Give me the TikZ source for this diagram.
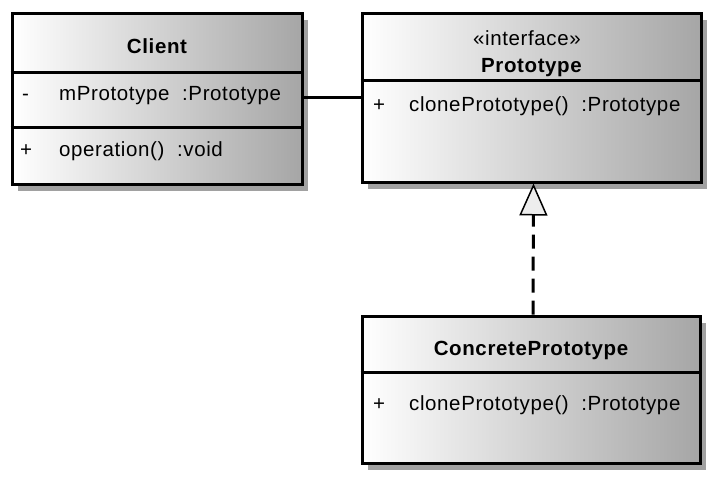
\documentclass[tikz,border=0pt]{standalone}
\usepackage{fontspec}
\setmainfont[LetterSpace=3]{Liberation Sans}
\usetikzlibrary{arrows.meta,shadows}
\begin{document}
\begin{tikzpicture}[x=1pt,y=-1pt,
	classbox/.style={draw,line width=3pt,inner sep=0pt,left color=white,right color=black!35,
		drop shadow={shadow xshift=6pt,shadow yshift=-7pt,fill=black!37,opacity=1}},
	sep/.style={line width=3pt},
	cname/.style={font=\fontsize{20.5}{24}\selectfont\bfseries,anchor=base,inner sep=0pt},
	stereo/.style={font=\fontsize{20.5}{24}\selectfont,anchor=base,inner sep=0pt},
	member/.style={font=\fontsize{20.5}{24}\selectfont,anchor=base west,inner sep=0pt}]
		\useasboundingbox (0,0) rectangle (720,488);
		% boxes
		\node[classbox,minimum width=290,minimum height=171] (client) at (157,98.5) {};
		\node[classbox,minimum width=339,minimum height=169] (proto) at (531.5,97.5) {};
		\node[classbox,minimum width=338,minimum height=147] (concrete) at (531,389.5) {};
		% compartments
		\draw[sep] (client.west |- 0,72) -- (client.east |- 0,72);
		\draw[sep] (client.west |- 0,127) -- (client.east |- 0,127);
		\draw[sep] (proto.west |- 0,80) -- (proto.east |- 0,80);
		\draw[sep] (concrete.west |- 0,372) -- (concrete.east |- 0,372);
		% Client
		\node[cname] (clientname) at (157,53) {Client};
		\node[member] (cattrvis) at (22,100) {-};
		\node[member] (cattr) at (59,100) {mPrototype~~:Prototype};
		\node[member] (copvis) at (20,156) {+};
		\node[member] (cop) at (59,156) {operation()~~:void};
		% Prototype
		\node[stereo] (protostereo) at (527,45) {«interface»};
		\node[cname] (protoname) at (531.5,72) {Prototype};
		\node[member] (pcvis) at (373,111) {+};
		\node[member] (pclone) at (409,111) {clonePrototype()~~:Prototype};
		% ConcretePrototype
		\node[cname] (concretename) at (531,355) {ConcretePrototype};
		\node[member] (ccvis) at (373,410) {+};
		\node[member] (cclone) at (409,410) {clonePrototype()~~:Prototype};
		% connectors
		\coordinate (assoc) at (0,97);
		\draw[line width=3pt] (client.east |- assoc) -- (proto.west |- assoc);
		\draw[line width=3pt,dash pattern=on 14pt off 8pt,
			-{Triangle[open,length=32pt,width=28pt,line width=1.5pt,fill=black!7]}]
			([xshift=2pt]concrete.north) -- ([xshift=2pt]proto.south);
\end{tikzpicture}
\end{document}
